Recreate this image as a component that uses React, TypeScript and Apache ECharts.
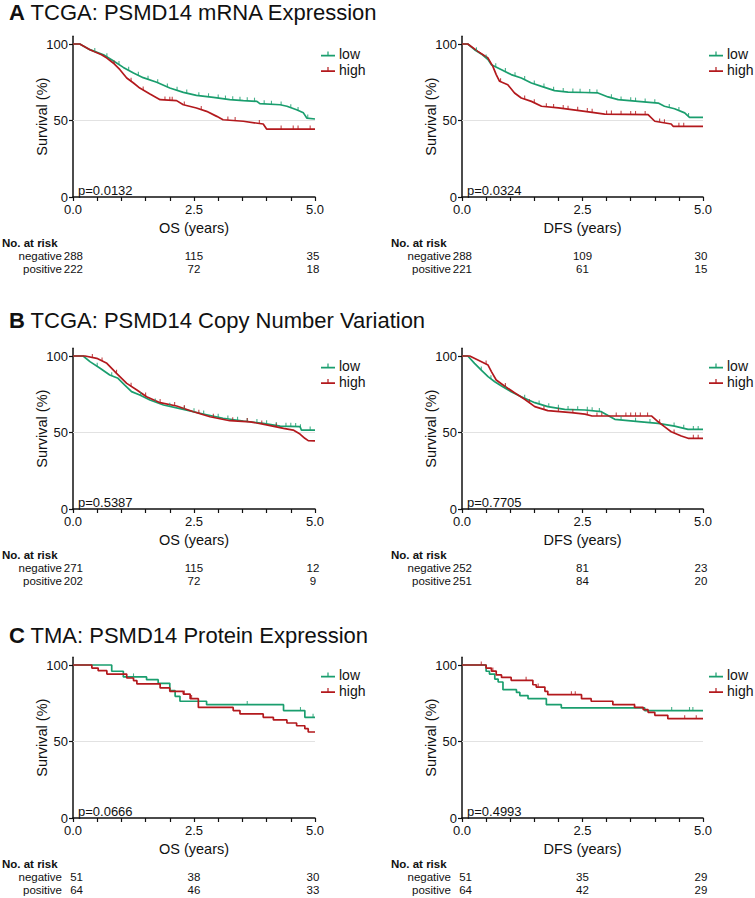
import React, { useEffect, useRef } from 'react';
import * as echarts from 'echarts';

const GREEN = '#1a9e6e';
const RED = '#b3191d';
const FONT = 'Liberation Sans, Arial, Helvetica, sans-serif';

// ---------- Panel A: TCGA mRNA ----------
const aOsLowT = [0, 0.14, 0.35, 0.63, 0.83, 1.04, 1.25, 1.45, 1.73, 2.0, 2.28, 2.55, 2.9, 3.24, 3.52, 3.8, 3.86, 4.28, 4.42, 4.62, 4.76, 4.83, 5.0];
const aOsLowS = [100, 100, 96.3, 93, 89, 84.7, 81, 78, 75, 71.2, 68.4, 66.4, 65.1, 63.6, 63, 62.5, 61, 60.3, 59.3, 57, 55, 51.6, 51];
const aOsHighT = [0, 0.14, 0.35, 0.59, 0.7, 0.83, 0.97, 1.11, 1.25, 1.38, 1.59, 1.8, 2.14, 2.28, 2.55, 2.76, 2.97, 3.1, 3.52, 3.93, 4.0, 5.0];
const aOsHighS = [100, 100, 96.3, 93, 90.8, 87.6, 83.2, 77.8, 74.5, 71.2, 67.3, 63.6, 63, 60.3, 58.2, 56, 52.7, 50.5, 49.5, 47.7, 44.4, 44.4];
const aOsLowCens = [0.45, 0.7, 0.95, 1.15, 1.35, 1.55, 1.75, 1.95, 2.15, 2.35, 2.6, 2.8, 3.0, 3.15, 3.3, 3.45, 3.6, 3.75, 3.95, 4.1, 4.3, 4.5, 4.65, 4.85];
const aOsHighCens = [0.85, 1.2, 1.45, 1.9, 2.0, 2.05, 2.3, 2.65, 3.2, 3.35, 3.85, 4.3, 4.55, 4.65, 4.9];

const aDfsLowT = [0, 0.12, 0.26, 0.4, 0.54, 0.61, 0.82, 1.02, 1.23, 1.44, 1.65, 1.92, 2.2, 2.55, 2.82, 3.03, 3.24, 3.65, 4.07, 4.2, 4.41, 4.62, 4.72, 5.0];
const aDfsLowS = [100, 100, 96.3, 93.5, 89.8, 86.5, 83.2, 80, 77.8, 74.5, 72.3, 69.5, 68.6, 68.3, 68, 65.4, 63.6, 62.5, 61.4, 59.3, 57.7, 55, 52, 52];
const aDfsHighT = [0, 0.12, 0.33, 0.54, 0.64, 0.71, 0.78, 0.95, 1.09, 1.23, 1.44, 1.65, 2.0, 2.55, 2.96, 3.86, 4.0, 4.34, 4.38, 5.0];
const aDfsHighS = [100, 100, 95.2, 90.8, 85.4, 80, 75.6, 73.4, 68, 64.7, 62.5, 59.3, 58.2, 56, 54.2, 53.8, 49.5, 47.7, 46.2, 46.2];
const aDfsLowCens = [0.3, 0.5, 0.7, 0.9, 1.1, 1.3, 1.5, 1.7, 1.9, 2.1, 2.3, 2.45, 2.65, 2.8, 3.1, 3.3, 3.5, 3.6, 3.8, 4.0, 4.3, 4.5, 4.7];
const aDfsHighCens = [0.8, 1.3, 1.5, 1.75, 1.9, 2.1, 2.2, 2.4, 2.6, 2.7, 3.0, 3.1, 3.3, 3.5, 3.6, 3.8, 4.1, 4.2, 4.5, 4.6];

// ---------- Panel B: TCGA CNV ----------
const bOsLowT = [0, 0.21, 0.35, 0.56, 0.76, 0.93, 1.07, 1.21, 1.38, 1.59, 1.87, 2.28, 2.69, 3.1, 3.52, 3.93, 4.28, 4.69, 4.72, 5.0];
const bOsLowS = [100, 100, 96.3, 92, 87.6, 85.4, 81, 76.7, 74.5, 71.2, 68, 65.1, 62.1, 59.3, 57.5, 56, 54.2, 53.8, 51.6, 51.6];
const bOsHighT = [0, 0.25, 0.49, 0.7, 0.9, 1.11, 1.32, 1.52, 1.8, 2.14, 2.49, 2.83, 3.24, 3.66, 4.0, 4.35, 4.55, 4.69, 4.79, 4.86, 5.0];
const bOsHighS = [100, 100, 98.5, 95.2, 88.7, 82.1, 77.8, 73.4, 69.5, 67.3, 63.6, 60.3, 57.7, 57, 55, 52.7, 51.6, 49, 46.2, 44.7, 44.5];
const bOsLowCens = [0.5, 0.8, 1.4, 1.7, 2.0, 2.3, 2.5, 2.7, 3.0, 3.2, 3.4, 3.6, 3.8, 4.0, 4.2, 4.4, 4.5, 4.6, 4.7, 4.9];
const bOsHighCens = [0.4, 0.6, 0.9, 1.2, 1.5, 1.8, 2.1, 2.3, 2.6, 2.9, 3.3, 3.6, 3.9, 4.2];

const bDfsLowT = [0, 0.12, 0.26, 0.4, 0.54, 0.68, 0.82, 1.02, 1.23, 1.51, 1.78, 2.13, 2.55, 2.89, 3.17, 3.72, 4.07, 4.41, 4.69, 5.0];
const bDfsLowS = [100, 100, 95.2, 90.8, 86.5, 83.2, 80.4, 76.7, 73.4, 69.5, 66.9, 65.1, 64.7, 63.6, 58.6, 57, 56, 54.2, 52, 52];
const bDfsHighT = [0, 0.16, 0.33, 0.54, 0.61, 0.71, 0.88, 1.09, 1.3, 1.51, 1.78, 2.27, 2.55, 2.7, 3.93, 4.07, 4.2, 4.34, 4.55, 4.69, 5.0];
const bDfsHighS = [100, 100, 97.4, 94.1, 89.8, 84.3, 80.4, 76, 71.7, 66.9, 64.3, 63, 62, 60.8, 60.8, 57, 53.8, 50.5, 47.7, 46.2, 46.2];
const bDfsLowCens = [0.4, 0.6, 0.9, 1.3, 1.6, 1.8, 2.0, 2.2, 2.4, 2.6, 2.7, 2.85, 3.3, 3.6, 3.9, 4.4, 4.6, 4.8, 4.9];
const bDfsHighCens = [0.5, 0.9, 1.4, 1.7, 2.0, 2.3, 2.6, 2.8, 2.9, 3.2, 3.4, 3.5, 3.6, 3.7, 3.85, 4.1, 4.4, 4.8, 4.9];

// ---------- Panel C: TMA protein ----------
const cOsLowT = [0, 0.8, 1.04, 1.52, 1.76, 2.0, 2.11, 2.21, 2.76, 4.35, 4.79, 5.0];
const cOsLowS = [100, 95.9, 92.2, 90.4, 88, 83.2, 79.5, 76.3, 74.1, 70.2, 65.8, 65.8];
const cOsHighT = [0, 0.39, 0.52, 0.7, 1.11, 1.25, 1.32, 1.8, 2.0, 2.28, 2.42, 2.59, 3.31, 3.45, 3.93, 4.14, 4.42, 4.62, 4.79, 4.86, 5.0];
const cOsHighS = [100, 98, 96.3, 94.1, 91.5, 89.8, 87.6, 85, 82.8, 81, 78, 72.3, 70.2, 68, 65.8, 64.1, 62.1, 60.3, 58.4, 56.2, 56.2];
const cOsLowCens = [1.25, 3.6, 4.7, 4.96];
const cOsHighCens = [2.3, 2.45];

const cDfsLowT = [0, 0.5, 0.57, 0.68, 0.75, 0.85, 1.13, 1.2, 1.37, 1.75, 2.06, 3.79, 5.0];
const cDfsLowS = [100, 95.9, 94.1, 90.8, 88.9, 83.9, 82.1, 80, 78, 74.1, 72, 70.2, 70.2];
const cDfsHighT = [0, 0.5, 0.61, 0.71, 0.82, 1.02, 1.47, 1.54, 1.72, 1.78, 2.48, 2.68, 3.13, 3.58, 3.76, 3.86, 4.0, 4.27, 5.0];
const cDfsHighS = [100, 98, 96, 93.5, 91.9, 90, 87.1, 85.6, 82.8, 80.6, 78, 76.3, 74.1, 72.3, 70.8, 69.1, 67.1, 64.9, 64.9];
const cDfsLowCens = [4.35, 4.72, 4.79];
const cDfsHighCens = [0.4, 0.64, 1.33, 1.58, 2.27, 2.35, 3.58, 4.62, 4.86];

// ---------- Risk tables ----------
const aOsRiskNeg = ['288', '115', '35'];
const aOsRiskPos = ['222', '72', '18'];
const aDfsRiskNeg = ['288', '109', '30'];
const aDfsRiskPos = ['221', '61', '15'];
const bOsRiskNeg = ['271', '115', '12'];
const bOsRiskPos = ['202', '72', '9'];
const bDfsRiskNeg = ['252', '81', '23'];
const bDfsRiskPos = ['251', '84', '20'];
const cOsRiskNeg = ['51', '38', '30'];
const cOsRiskPos = ['64', '46', '33'];
const cDfsRiskNeg = ['51', '35', '29'];
const cDfsRiskPos = ['64', '42', '29'];

// ---------- Labels ----------
const titles = ['TCGA: PSMD14 mRNA Expression', 'TCGA: PSMD14 Copy Number Variation', 'TMA: PSMD14 Protein Expression'];
const titleLetters = ['A', 'B', 'C'];
const pValues = ['p=0.0132', 'p=0.0324', 'p=0.5387', 'p=0.7705', 'p=0.0666', 'p=0.4993'];
const xNames = ['OS (years)', 'DFS (years)'];
const groupNames = ['low', 'high'];
const riskRowNames = ['negative', 'positive'];
const xTickValues = [0, 0.5, 1, 1.5, 2, 2.5, 3, 3.5, 4, 4.5, 5];
const xLabelValues = [0, 2.5, 5];
const yLabelValues = [0, 50, 100];

const panels = [
  { row: 0, col: 0, lowT: aOsLowT, lowS: aOsLowS, highT: aOsHighT, highS: aOsHighS, lowC: aOsLowCens, highC: aOsHighCens, neg: aOsRiskNeg, pos: aOsRiskPos, step: false },
  { row: 0, col: 1, lowT: aDfsLowT, lowS: aDfsLowS, highT: aDfsHighT, highS: aDfsHighS, lowC: aDfsLowCens, highC: aDfsHighCens, neg: aDfsRiskNeg, pos: aDfsRiskPos, step: false },
  { row: 1, col: 0, lowT: bOsLowT, lowS: bOsLowS, highT: bOsHighT, highS: bOsHighS, lowC: bOsLowCens, highC: bOsHighCens, neg: bOsRiskNeg, pos: bOsRiskPos, step: false },
  { row: 1, col: 1, lowT: bDfsLowT, lowS: bDfsLowS, highT: bDfsHighT, highS: bDfsHighS, lowC: bDfsLowCens, highC: bDfsHighCens, neg: bDfsRiskNeg, pos: bDfsRiskPos, step: false },
  { row: 2, col: 0, lowT: cOsLowT, lowS: cOsLowS, highT: cOsHighT, highS: cOsHighS, lowC: cOsLowCens, highC: cOsHighCens, neg: cOsRiskNeg, pos: cOsRiskPos, step: true },
  { row: 2, col: 1, lowT: cDfsLowT, lowS: cDfsLowS, highT: cDfsHighT, highS: cDfsHighS, lowC: cDfsLowCens, highC: cDfsHighCens, neg: cDfsRiskNeg, pos: cDfsRiskPos, step: true },
];

// layout
const COLS = [{ x0: 73, w: 242 }, { x0: 462, w: 241 }];
const ROWS = [{ y100: 44, y0: 197, title: 12 }, { y100: 356, y0: 509, title: 320 }, { y100: 665, y0: 818, title: 635 }];
const Y_MAX = 105;

function survAt(T: number[], S: number[], t: number, step: boolean) {
  let i = 0;
  while (i < T.length - 2 && T[i + 1] <= t) i++;
  if (step) return S[i];
  const f = (t - T[i]) / (T[i + 1] - T[i]);
  return S[i] + (S[i + 1] - S[i]) * Math.max(0, Math.min(1, f));
}

function buildOption() {
  const grid: any[] = [];
  const xAxis: any[] = [];
  const yAxis: any[] = [];
  const series: any[] = [];
  const legend: any[] = [];
  const graphic: any[] = [];
  const icon = 'path://M0,5.4H14V7H0Z M6.4,2.2H7.6V5.6H6.4Z';

  panels.forEach((p, i) => {
    const c = COLS[p.col];
    const r = ROWS[p.row];
    const h = (r.y0 - r.y100) * Y_MAX / 100;
    grid.push({ left: c.x0, top: r.y0 - h, width: c.w, height: h, containLabel: false });
    xAxis.push({
      type: 'value', gridIndex: i, min: 0, max: 5, interval: 0.5,
      name: xNames[p.col], nameLocation: 'middle', nameGap: 23, nameMoveOverlap: false,
      nameTextStyle: { fontSize: 14.5, color: '#111', fontFamily: FONT },
      axisLine: { show: true, onZero: false, lineStyle: { color: '#111', width: 1.5 } },
      axisTick: { show: true, length: 4, customValues: xTickValues, lineStyle: { color: '#111', width: 1.2 } },
      axisLabel: { customValues: xLabelValues, margin: 6, fontSize: 13, color: '#111', fontFamily: FONT, formatter: (v: number) => v.toFixed(1) },
      splitLine: { show: false },
    });
    yAxis.push({
      type: 'value', gridIndex: i, min: 0, max: Y_MAX,
      name: 'Survival (%)', nameLocation: 'middle', nameGap: 24, nameMoveOverlap: false,
      nameTextStyle: { fontSize: 14.5, color: '#111', fontFamily: FONT },
      axisLine: { show: true, onZero: false, lineStyle: { color: '#111', width: 1.5 } },
      axisTick: { show: true, length: 4, customValues: yLabelValues, lineStyle: { color: '#111', width: 1.2 } },
      axisLabel: { customValues: yLabelValues, margin: 5, fontSize: 13, color: '#111', fontFamily: FONT },
      splitLine: { show: false },
    });

    const curves = [
      { name: groupNames[0], T: p.lowT, S: p.lowS, C: p.lowC, color: GREEN },
      { name: groupNames[1], T: p.highT, S: p.highS, C: p.highC, color: RED },
    ];
    curves.forEach((cv, k) => {
      const s: any = {
        type: 'line', name: cv.name, xAxisIndex: i, yAxisIndex: i,
        data: cv.T.map((t, j) => [t, cv.S[j]]),
        step: p.step ? 'end' : false,
        showSymbol: false, symbol: 'none',
        lineStyle: { color: cv.color, width: 1.7 },
        itemStyle: { color: cv.color },
        z: 3,
      };
      if (k === 0) {
        s.markLine = {
          silent: true, symbol: ['none', 'none'], label: { show: false },
          lineStyle: { color: '#e2e2e2', width: 1, type: 'solid' },
          data: [{ yAxis: 50 }], z: 1,
        };
      }
      series.push(s);
      series.push({
        type: 'scatter', name: cv.name, xAxisIndex: i, yAxisIndex: i,
        data: cv.C.map((t) => [t, survAt(cv.T, cv.S, t, p.step)]),
        symbol: 'rect', symbolSize: [1.1, 3.5], symbolOffset: [0, -1.8],
        itemStyle: { color: cv.color }, silent: true, z: 4,
      });
    });

    legend.push({
      orient: 'vertical', left: c.x0 + c.w + 6, top: r.y100 + 3, padding: 0,
      itemWidth: 14, itemHeight: 6, itemGap: 1.5, selectedMode: false,
      textStyle: { fontSize: 14, color: '#111', fontFamily: FONT, lineHeight: 14, padding: [0, 0, 0, -1] },
      data: groupNames.map((n) => ({ name: n, icon })),
    });

    // p-value
    graphic.push({
      type: 'text', silent: true,
      style: { text: pValues[i], x: c.x0 + 5, y: r.y0 - 7, fontSize: 13, fontFamily: FONT, fill: '#111', verticalAlign: 'middle' },
    });
    // risk table
    graphic.push({
      type: 'text', silent: true,
      style: { text: 'No. at risk', x: c.x0 - 71, y: r.y0 + 46, fontSize: 11.5, fontWeight: 'bold', fontFamily: FONT, fill: '#111', verticalAlign: 'middle' },
    });
    [p.neg, p.pos].forEach((vals, rr) => {
      const yy = r.y0 + 59 + rr * 12.5;
      graphic.push({
        type: 'text', silent: true,
        style: { text: riskRowNames[rr], x: c.x0 - 11, y: yy, align: 'right', fontSize: 11.5, fontFamily: FONT, fill: '#111', verticalAlign: 'middle' },
      });
      const xs = [c.x0 + 10, c.x0 + c.w / 2, c.x0 + c.w - 2];
      const al = ['right', 'center', 'center'];
      vals.forEach((v, q) => {
        graphic.push({
          type: 'text', silent: true,
          style: { text: v, x: xs[q], y: yy, align: al[q], fontSize: 11.5, fontFamily: FONT, fill: '#111', verticalAlign: 'middle' },
        });
      });
    });
  });

  ROWS.forEach((r, k) => {
    graphic.push({
      type: 'text', silent: true,
      style: {
        text: '{b|' + titleLetters[k] + '} ' + titles[k],
        x: 9, y: r.title, fontSize: 22, fontFamily: FONT, fill: '#111', verticalAlign: 'middle',
        rich: { b: { fontWeight: 'bold', fontSize: 22, fontFamily: FONT, fill: '#111' } },
      },
    });
  });

  return {
    animation: false,
    backgroundColor: '#ffffff',
    textStyle: { fontFamily: FONT },
    grid, xAxis, yAxis, series, legend, graphic,
  };
}

export default function App() {
  const ref = useRef<HTMLDivElement>(null);
  useEffect(() => {
    if (!ref.current) return;
    const chart = echarts.init(ref.current, undefined, { renderer: 'svg' });
    chart.setOption(buildOption() as any);
    return () => chart.dispose();
  }, []);
  return <div ref={ref} style={{ position: 'absolute', left: 0, top: 0, width: 755, height: 898, background: '#fff' }} />;
}
